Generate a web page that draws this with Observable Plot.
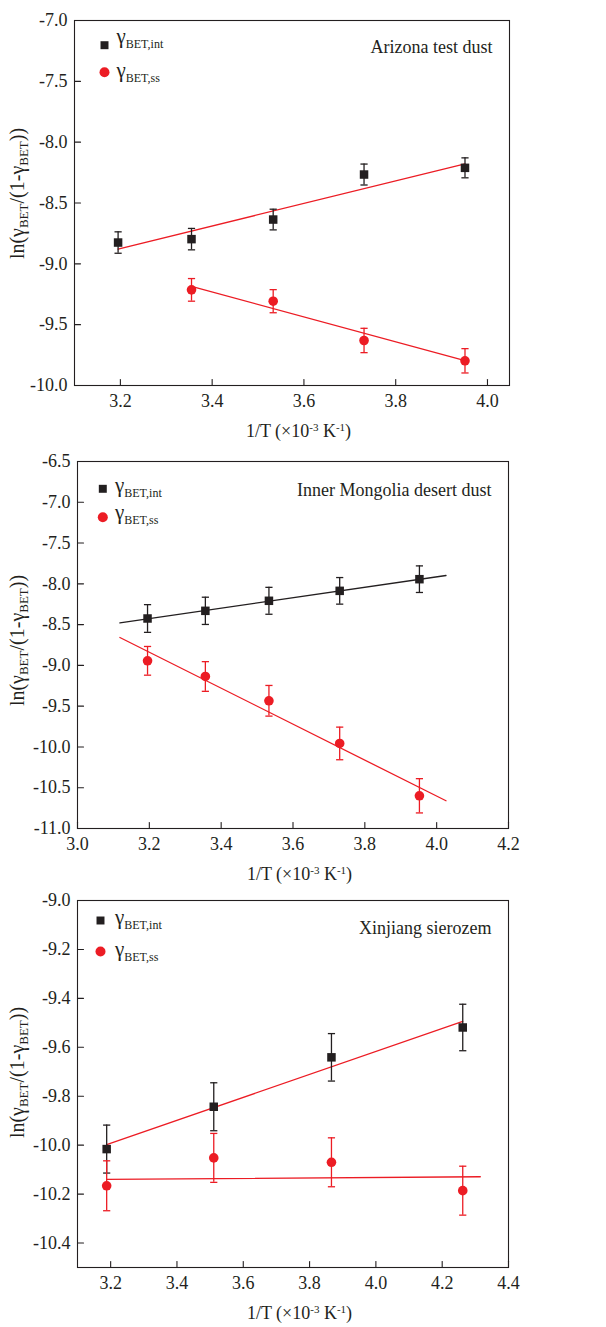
<!DOCTYPE html>
<html><head><meta charset="utf-8">
<script src="https://cdn.jsdelivr.net/npm/d3@7"></script>
<script src="https://cdn.jsdelivr.net/npm/@observablehq/plot@0.6"></script>
<style>body{margin:0;background:#fff}#chart svg{display:block;background:#fff;overflow:visible}</style>
</head><body><div id="chart"></div><script>
// ---------- Panel A: Arizona test dust ----------
const aName = "Arizona test dust";
const aIntX = [3.195, 3.355, 3.533, 3.731, 3.951];
const aIntY = [-8.825, -8.797, -8.636, -8.266, -8.211];
const aIntErr = [0.088, 0.088, 0.085, 0.086, 0.082];
const aSsX = [3.355, 3.533, 3.731, 3.951];
const aSsY = [-9.214, -9.307, -9.630, -9.797];
const aSsErr = [0.093, 0.095, 0.100, 0.100];
const aFitIntX = [3.195, 3.951];
const aFitIntY = [-8.879, -8.178];
const aFitSsX = [3.355, 3.951];
const aFitSsY = [-9.186, -9.795];
const aXDomain = [3.1, 4.048];
const aYDomain = [-10.0, -7.0];
const aXTicks = [3.2, 3.4, 3.6, 3.8, 4.0];
const aYTicks = [-7.0, -7.5, -8.0, -8.5, -9.0, -9.5, -10.0];

// ---------- Panel B: Inner Mongolia desert dust ----------
const bName = "Inner Mongolia desert dust";
const bIntX = [3.195, 3.356, 3.533, 3.730, 3.952];
const bIntY = [-8.425, -8.331, -8.208, -8.086, -7.943];
const bIntErr = [0.170, 0.167, 0.165, 0.163, 0.163];
const bSsX = [3.195, 3.356, 3.533, 3.730, 3.952];
const bSsY = [-8.944, -9.136, -9.434, -9.957, -10.599];
const bSsErr = [0.176, 0.182, 0.188, 0.200, 0.210];
const bFitIntX = [3.118, 4.026];
const bFitIntY = [-8.478, -7.898];
const bFitSsX = [3.118, 4.026];
const bFitSsY = [-8.658, -10.660];
const bXDomain = [3.0, 4.2];
const bYDomain = [-11.0, -6.5];
const bXTicks = [3.0, 3.2, 3.4, 3.6, 3.8, 4.0, 4.2];
const bYTicks = [-6.5, -7.0, -7.5, -8.0, -8.5, -9.0, -9.5, -10.0, -10.5, -11.0];

// ---------- Panel C: Xinjiang sierozem ----------
const cName = "Xinjiang sierozem";
const cIntX = [3.188, 3.511, 3.866, 4.262];
const cIntY = [-10.016, -9.843, -9.641, -9.519];
const cIntErr = [0.098, 0.098, 0.097, 0.095];
const cSsX = [3.188, 3.511, 3.866, 4.262];
const cSsY = [-10.166, -10.052, -10.070, -10.186];
const cSsErr = [0.102, 0.100, 0.100, 0.100];
const cFitIntX = [3.188, 4.262];
const cFitIntY = [-9.998, -9.494];
const cFitSsX = [3.188, 4.315];
const cFitSsY = [-10.140, -10.129];
const cXDomain = [3.1, 4.4];
const cYDomain = [-10.5, -9.0];
const cXTicks = [3.2, 3.4, 3.6, 3.8, 4.0, 4.2, 4.4];
const cYTicks = [-9.0, -9.2, -9.4, -9.6, -9.8, -10.0, -10.2, -10.4];

// ---------- styling ----------
const FONT = "'Liberation Serif', 'Times New Roman', serif";
const INK = "#231f20";
const RED = "#ec1c24";

const rows = (xs, ys, es) => xs.map((x, i) => ({x, y: ys[i], e: es ? es[i] : 0}));
const capSymbol = {draw(ctx) { ctx.moveTo(-3.6, 0); ctx.lineTo(3.6, 0); }};
const tickShape = {draw(ctx, l) { ctx.moveTo(0, 0); ctx.lineTo(0, -l); }};
const fmt = d => d.toFixed(1);

function rich(sel, parts, main, small, subShift, supShift) {
  let off = 0;
  for (const [t, kind] of parts) {
    const target = kind === "sub" ? subShift : kind === "sup" ? supShift : 0;
    sel.append("tspan").attr("dy", target - off)
      .attr("font-size", kind === "main" ? main : small).text(t);
    off = target;
  }
}

function panel(p) {
  const intR = rows(p.intX, p.intY, p.intErr);
  const ssR = rows(p.ssX, p.ssY, p.ssErr);
  const fitInt = rows(p.fitIntX, p.fitIntY);
  const fitSs = rows(p.fitSsX, p.fitSsY);
  const svg = Plot.plot({
    width: 606, height: p.height,
    marginTop: p.mt, marginBottom: p.mb, marginLeft: p.ml, marginRight: p.mr,
    style: {fontFamily: FONT, fontSize: "18px", color: INK, background: "#fff", overflow: "visible"},
    x: {domain: p.xDomain, axis: null},
    y: {domain: p.yDomain, axis: null},
    marks: [
      Plot.frame({stroke: INK, strokeWidth: 1.1}),
      Plot.axisX(p.xTicks, {tickSize: 0, tickPadding: 9, tickFormat: fmt, label: null, fontSize: 18, fontFamily: FONT, fill: INK}),
      Plot.axisY(p.yTicks, {tickSize: 0, tickPadding: 7, tickFormat: fmt, label: null, fontSize: 18, fontFamily: FONT, fill: INK}),
      Plot.vector(p.xTicks, {x: d => d, frameAnchor: "bottom", length: 6, rotate: 0, anchor: "start", shape: tickShape, stroke: INK, strokeWidth: 1.1}),
      Plot.vector(p.yTicks, {y: d => d, frameAnchor: "left", length: 6, rotate: 90, anchor: "start", shape: tickShape, stroke: INK, strokeWidth: 1.1}),
      Plot.line(fitInt, {x: "x", y: "y", stroke: p.fitIntColor, strokeWidth: 1.3}),
      Plot.line(fitSs, {x: "x", y: "y", stroke: RED, strokeWidth: 1.3}),
      Plot.ruleX(intR, {x: "x", y1: d => d.y - d.e, y2: d => d.y + d.e, stroke: INK, strokeWidth: 1.3}),
      Plot.dot(intR, {x: "x", y: d => d.y - d.e, symbol: capSymbol, stroke: INK, strokeWidth: 1.3, r: 3}),
      Plot.dot(intR, {x: "x", y: d => d.y + d.e, symbol: capSymbol, stroke: INK, strokeWidth: 1.3, r: 3}),
      Plot.ruleX(ssR, {x: "x", y1: d => d.y - d.e, y2: d => d.y + d.e, stroke: RED, strokeWidth: 1.3}),
      Plot.dot(ssR, {x: "x", y: d => d.y - d.e, symbol: capSymbol, stroke: RED, strokeWidth: 1.3, r: 3}),
      Plot.dot(ssR, {x: "x", y: d => d.y + d.e, symbol: capSymbol, stroke: RED, strokeWidth: 1.3, r: 3}),
      Plot.dot(intR, {x: "x", y: "y", symbol: "square", r: 4.8, fill: INK, stroke: "none"}),
      Plot.dot(ssR, {x: "x", y: "y", symbol: "circle", r: 4.8, fill: RED, stroke: "none"}),
      // legend markers
      Plot.dot([0], {frameAnchor: "top-left", dx: p.legDx, dy: p.leg1, symbol: "square", r: 4.5, fill: INK, stroke: "none"}),
      Plot.dot([0], {frameAnchor: "top-left", dx: p.legDx, dy: p.leg2, symbol: "circle", r: 5, fill: RED, stroke: "none"}),
      // panel name
      Plot.text([p.name], {text: d => d, frameAnchor: "top-right", dx: -17, dy: p.nameDy, textAnchor: "end", lineAnchor: "bottom", fontSize: 18, fontFamily: FONT, fill: INK})
    ]
  });
  const s = d3.select(svg);
  const fx0 = p.ml, fx1 = 606 - p.mr, fy0 = p.mt, fy1 = p.height - p.mb;
  // legend labels
  const l1 = s.append("text").attr("x", fx0 + p.legTx).attr("y", fy0 + p.leg1T)
    .attr("text-anchor", "start").attr("font-family", FONT).attr("fill", INK);
  rich(l1, [["γ", "main"], ["BET,int", "sub"]], 21, 12, 4.5, 0);
  const l2 = s.append("text").attr("x", fx0 + p.legTx).attr("y", fy0 + p.leg2T)
    .attr("text-anchor", "start").attr("font-family", FONT).attr("fill", INK);
  rich(l2, [["γ", "main"], ["BET,ss", "sub"]], 21, 12, 4.5, 0);
  // x label
  const xl = s.append("text").attr("x", (fx0 + fx1) / 2 + 7).attr("y", fy1 + 52)
    .attr("text-anchor", "middle").attr("font-family", FONT).attr("fill", INK);
  rich(xl, [["1/T (×10", "main"], ["-3", "sup"], [" K", "main"], ["-1", "sup"], [")", "main"]], 18, 11, 0, -6);
  // y label
  const yl = s.append("text")
    .attr("transform", `translate(24,${(fy0 + fy1) / 2 + p.ylShift}) rotate(-90)`)
    .attr("text-anchor", "middle").attr("font-family", FONT).attr("fill", INK);
  rich(yl, [["ln(γ", "main"], ["BET", "sub"], ["/(1-γ", "main"], ["BET", "sub"], ["))", "main"]], 20, 13, 3.5, 0);
  return svg;
}

const chart = document.getElementById("chart");
chart.append(panel({
  name: aName, intX: aIntX, intY: aIntY, intErr: aIntErr, ssX: aSsX, ssY: aSsY, ssErr: aSsErr,
  fitIntX: aFitIntX, fitIntY: aFitIntY, fitSsX: aFitSsX, fitSsY: aFitSsY, fitIntColor: RED,
  xDomain: aXDomain, yDomain: aYDomain, xTicks: aXTicks, yTicks: aYTicks,
  height: 442, mt: 20, mb: 57, ml: 74, mr: 97,
  legDx: 30, leg1: 24.7, leg2: 51.7, legTx: 42.5, leg1T: 23, leg2T: 57, nameDy: 32.5, ylShift: -9
}));
chart.append(panel({
  name: bName, intX: bIntX, intY: bIntY, intErr: bIntErr, ssX: bSsX, ssY: bSsY, ssErr: bSsErr,
  fitIntX: bFitIntX, fitIntY: bFitIntY, fitSsX: bFitSsX, fitSsY: bFitSsY, fitIntColor: INK,
  xDomain: bXDomain, yDomain: bYDomain, xTicks: bXTicks, yTicks: bYTicks,
  height: 444, mt: 19, mb: 58, ml: 77, mr: 98,
  legDx: 25.3, leg1: 27.3, leg2: 55.7, legTx: 38, leg1T: 31, leg2T: 58, nameDy: 34, ylShift: -4
}));
chart.append(panel({
  name: cName, intX: cIntX, intY: cIntY, intErr: cIntErr, ssX: cSsX, ssY: cSsY, ssErr: cSsErr,
  fitIntX: cFitIntX, fitIntY: cFitIntY, fitSsX: cFitSsX, fitSsY: cFitSsY, fitIntColor: RED,
  xDomain: cXDomain, yDomain: cYDomain, xTicks: cXTicks, yTicks: cYTicks,
  height: 441, mt: 14, mb: 60, ml: 77, mr: 98,
  legDx: 23, leg1: 20, leg2: 51, legTx: 38, leg1T: 24, leg2T: 56, nameDy: 33, ylShift: -11
}));
</script></body></html>
